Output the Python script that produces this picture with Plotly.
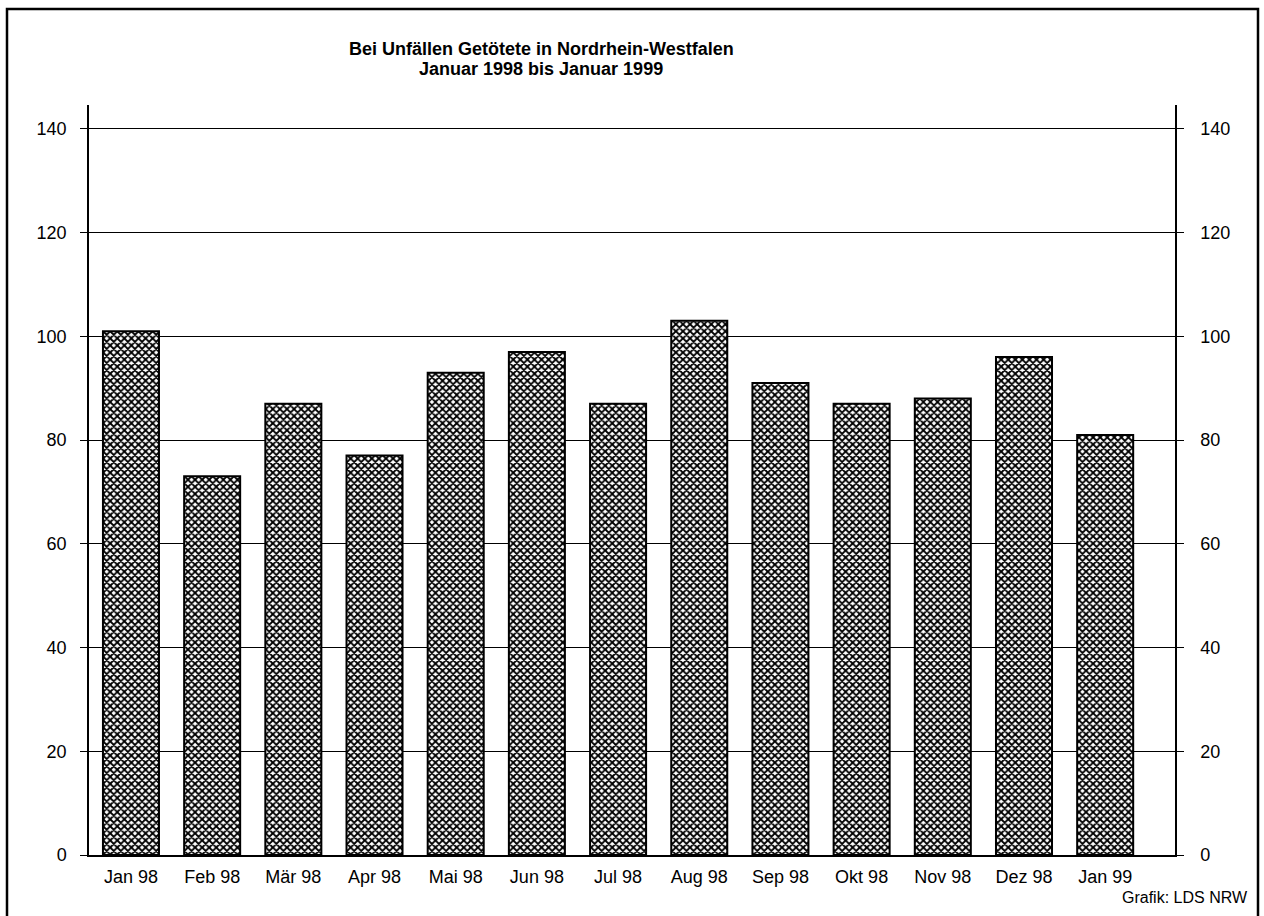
import plotly.graph_objects as go

categories = ["Jan 98", "Feb 98", "Mär 98", "Apr 98", "Mai 98", "Jun 98", "Jul 98",
              "Aug 98", "Sep 98", "Okt 98", "Nov 98", "Dez 98", "Jan 99"]
values = [101, 73, 87, 77, 93, 97, 87, 103, 91, 87, 88, 96, 81]
tick_vals = [0, 20, 40, 60, 80, 100, 120, 140]
tick_text = ["0", "20", "40", "60", "80", "100", "120", "140"]

title_lines = ["Bei Unfällen Getötete in Nordrhein-Westfalen", "Januar 1998 bis Januar 1999"]
source = "Grafik: LDS NRW"

FONT = "Liberation Sans, Arial, Helvetica, sans-serif"

W, H = 1264, 916
L, R, T, B = 89, 89, 105, 61
PW, PH = W - L - R, H - T - B


def px_x(px):
    return (px - L) / PW


def px_y(py):
    return (H - B - py) / PH


fig = go.Figure()
fig.add_trace(go.Bar(
    x=categories, y=values,
    marker=dict(
        color="white",
        line=dict(color="black", width=2),
        pattern=dict(shape="x", fgcolor="black", bgcolor="white", size=5, solidity=0.6,
                     fillmode="replace"),
    ),
    width=0.69,
    showlegend=False, hoverinfo="x+y",
))
fig.add_trace(go.Scatter(x=categories, y=values, yaxis="y2", mode="markers",
                         marker=dict(opacity=0), showlegend=False, hoverinfo="skip"))

yr = [0, 144.6]
annotations = [
    dict(text="<b>" + title_lines[0] + "</b>", xref="paper", yref="paper",
         x=px_x(541), y=px_y(49), xanchor="center", yanchor="middle", showarrow=False,
         font=dict(family=FONT, size=18, color="black")),
    dict(text="<b>" + title_lines[1] + "</b>", xref="paper", yref="paper",
         x=px_x(541), y=px_y(69), xanchor="center", yanchor="middle", showarrow=False,
         font=dict(family=FONT, size=18, color="black")),
    dict(text=source, xref="paper", yref="paper",
         x=px_x(1250), y=px_y(897), xanchor="right", yanchor="middle",
         showarrow=False, font=dict(family=FONT, size=16, color="black")),
]

fig.update_layout(
    width=W, height=H,
    paper_bgcolor="white", plot_bgcolor="white",
    margin=dict(l=L, r=R, t=T, b=B),
    font=dict(family=FONT, size=18, color="black"),
    xaxis=dict(type="category", range=[-0.517, 12.86], showgrid=False,
               showline=True, linecolor="black", linewidth=2,
               ticks="", tickfont=dict(size=18), ticklabelstandoff=4,
               zeroline=False),
    yaxis=dict(range=yr, tickvals=tick_vals, ticktext=tick_text,
               showgrid=True, gridcolor="black", gridwidth=1.3,
               showline=True, linecolor="black", linewidth=1.5,
               ticks="outside", ticklen=7, tickcolor="black", tickwidth=1.3,
               ticklabelstandoff=10, zeroline=False, tickfont=dict(size=18)),
    yaxis2=dict(range=yr, tickvals=tick_vals, ticktext=tick_text, overlaying="y", side="right",
                showgrid=False, showline=True, linecolor="black", linewidth=1.5,
                ticks="outside", ticklen=7, tickcolor="black", tickwidth=1.3,
                ticklabelstandoff=13, zeroline=False, tickfont=dict(size=18)),
    bargap=0.31,
    shapes=[dict(type="rect", xref="paper", yref="paper",
                 x0=px_x(7), x1=px_x(1258), y0=px_y(940), y1=px_y(9),
                 line=dict(color="black", width=2.5), fillcolor="rgba(0,0,0,0)", layer="below")],
    annotations=annotations,
)

fig.write_html("out.html", config={"displayModeBar": False},
               post_script="document.body.style.margin='0';")
